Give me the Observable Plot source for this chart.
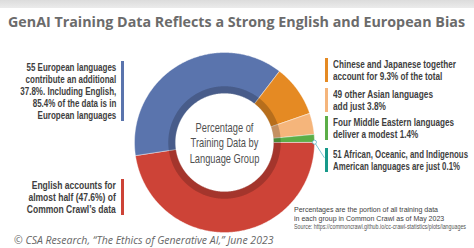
<!DOCTYPE html>
<html>
<head>
<meta charset="utf-8">
<script src="https://cdn.jsdelivr.net/npm/d3@7"></script>
<script src="https://cdn.jsdelivr.net/npm/@observablehq/plot@0.6"></script>
<style>
  html, body { margin: 0; padding: 0; background: #fff; }
  #wrap { position: relative; width: 474px; height: 248px; overflow: hidden; background: #fff; }
  #topband { position: absolute; left: 0; top: 0; width: 474px; height: 8px; background: linear-gradient(#dcdcdc, #ebebeb); }
  #title { position: absolute; left: 8px; top: 12px; font: 700 15px "Open Sans", sans-serif; color: #6b6b6b; white-space: nowrap; line-height: 18px; transform-origin: left center; }
  #chart { position: absolute; left: 0; top: 36px; }
  .lab { position: absolute; font-family: "Liberation Sans", Arial, sans-serif; font-weight: 700; font-size: 10.7px; line-height: 12px; color: #3e3e3e; white-space: nowrap; }
  .lab span { display: inline-block; }
  .left { text-align: right; padding-right: 5px; border-right: 3px solid; }
  .left span { transform-origin: right center; }
  .right { text-align: left; padding-left: 5px; border-left: 3px solid; }
  .right span { transform-origin: left center; }
  #note { position: absolute; left: 294px; top: 205px; font-family: "Liberation Sans", Arial, sans-serif; font-size: 8px; line-height: 9px; color: #3e3e3e; white-space: nowrap; }
  #note span { display: inline-block; transform-origin: left center; }
  #source { font-size: 6.3px; line-height: 8px; color: #555; }
  #caption { position: absolute; left: 14px; top: 233px; font: italic 10.5px "Open Sans", sans-serif; color: #666; white-space: nowrap; }
</style>
</head>
<body>
<div id="wrap">
  <div id="topband"></div>
  <div id="title"></div>
  <div id="chart"></div>
  <div id="labels"></div>
  <div id="note"></div>
  <div id="caption"></div>
</div>
<script>
// ---- data ----
const groups = ["African, Oceanic & Indigenous American", "Middle Eastern", "Other Asian", "Chinese & Japanese", "European", "English"];
const shares = [0.1, 1.4, 3.8, 9.3, 37.8, 47.6];
const colors = ["#17998a", "#5cae47", "#f5b57b", "#e58a23", "#5a74ad", "#cd4337"];
const labelTexts = [
  "51 African, Oceanic, and Indigenous\nAmerican languages are just 0.1%",
  "Four Middle Eastern languages\ndeliver a modest 1.4%",
  "49 other Asian languages\nadd just 3.8%",
  "Chinese and Japanese together\naccount for 9.3% of the total",
  "55 European languages\ncontribute an additional\n37.8%. Including English,\n85.4% of the data is in\nEuropean languages",
  "English accounts for\nalmost half (47.6%) of\nCommon Crawl\u2019s data"
];
const centerLabel = ["Percentage of", "Training Data by", "Language Group"];
const titleText = "GenAI Training Data Reflects a Strong English and European Bias";
const noteLines = ["Percentages are the portion of all training data", "in each group in Common Crawl as of May 2023"];
const sourceText = "Source: https://commoncrawl.github.io/cc-crawl-statistics/plots/languages";
const captionText = "\u00a9 CSA Research, \u201cThe Ethics of Generative AI,\u201d June 2023";

// ---- geometry (unit radius) ----
const rOuter = 1, rInner = 0.545, rShade = 0.625;
const total = d3.sum(shares);
const slices = [];
let acc = 0;
groups.forEach((g, i) => {
  const a0 = acc / total * 2 * Math.PI;
  acc += shares[i];
  const a1 = acc / total * 2 * Math.PI;
  slices.push({group: g, a0, a1, mid: (a0 + a1) / 2});
});
function ring(s, r0, r1) {
  const n = Math.max(2, Math.ceil((s.a1 - s.a0) / 0.01));
  const pts = [];
  for (let k = 0; k <= n; k++) { const a = s.a0 + (s.a1 - s.a0) * k / n; pts.push({group: s.group, x: r1 * Math.cos(a), y: r1 * Math.sin(a)}); }
  for (let k = n; k >= 0; k--) { const a = s.a0 + (s.a1 - s.a0) * k / n; pts.push({group: s.group, x: r0 * Math.cos(a), y: r0 * Math.sin(a)}); }
  return pts;
}
const slicePts = slices.flatMap(s => ring(s, rInner, rOuter));
const shadePts = slices.flatMap(s => ring(s, rInner, rShade));
const tiny = slices[0];
const leader = [{x1: Math.cos(tiny.mid), y1: Math.sin(tiny.mid), x2: 1.11, y2: -0.17}];

const plot = Plot.plot({
  width: 474, height: 212,
  marginLeft: 134, marginRight: 160, marginTop: 16, marginBottom: 16,
  x: {domain: [-1, 1], axis: null},
  y: {domain: [-1, 1], axis: null},
  color: {domain: groups, range: colors},
  style: {background: "transparent", overflow: "visible"},
  marks: [
    Plot.line(slicePts, {x: "x", y: "y", z: "group", fill: "group", stroke: "#ffffff", strokeWidth: 0.5, strokeOpacity: 0.8, curve: "linear-closed"}),
    Plot.line(shadePts, {x: "x", y: "y", z: "group", fill: "#000", fillOpacity: 0.2, stroke: "none", curve: "linear-closed"}),
    Plot.link(leader, {x1: "x1", y1: "y1", x2: "x2", y2: "y2", stroke: "#5fb7c9", strokeWidth: 0.8}),
    Plot.dot(leader, {x: "x1", y: "y1", r: 2, fill: "#fff", stroke: "#5fb7c9", strokeWidth: 0.8}),
    Plot.text([centerLabel.join("\n")], {frameAnchor: "middle", fontSize: 12, lineHeight: 1.3, fill: "#505050", fontWeight: 400, fontFamily: "'Liberation Sans', Arial, sans-serif"})
  ]
});
document.getElementById("chart").appendChild(plot);

// condense the centre label horizontally to the reference width
plot.querySelectorAll("text").forEach(t => {
  const w = t.getBBox().width;
  if (w > 0) t.setAttribute("transform", (t.getAttribute("transform") || "") + ` scale(${70 / w},1)`);
});

function fitX(el, target) {
  const w = el.getBoundingClientRect().width;
  if (w > 0) el.style.transform = `scaleX(${target / w})`;
}

const title = document.getElementById("title");
title.textContent = titleText;
fitX(title, 457);
document.getElementById("caption").textContent = captionText;
const note = document.getElementById("note");
note.innerHTML = noteLines.map(l => `<div><span>${l}</span></div>`).join("") + `<div id="source"><span>${sourceText}</span></div>`;
const noteSpans = note.querySelectorAll("span");
const k0 = 144 / noteSpans[0].getBoundingClientRect().width;
const noteW = [144, k0 * noteSpans[1].getBoundingClientRect().width, 172];
noteSpans.forEach((s, i) => fitX(s, noteW[i]));

// annotation boxes (layout only)
const boxes = [
  {side: "right", left: 325, top: 148, w: 135},
  {side: "right", left: 325, top: 116, w: 121},
  {side: "right", left: 325, top: 88, w: 100},
  {side: "right", left: 325, top: 58, w: 123},
  {side: "left", right: 350, top: 61, w: 96},
  {side: "left", right: 350, top: 179, w: 89}
];
const labDiv = document.getElementById("labels");
boxes.forEach((b, i) => {
  const d = document.createElement("div");
  d.className = "lab " + b.side;
  d.style.top = b.top + "px";
  if (b.side === "right") d.style.left = b.left + "px"; else d.style.right = b.right + "px";
  d.style.borderColor = colors[i];
  const sp = document.createElement("span");
  sp.innerHTML = labelTexts[i].split("\n").join("<br>");
  d.appendChild(sp);
  labDiv.appendChild(d);
  fitX(sp, b.w);
});
</script>
</body>
</html>
